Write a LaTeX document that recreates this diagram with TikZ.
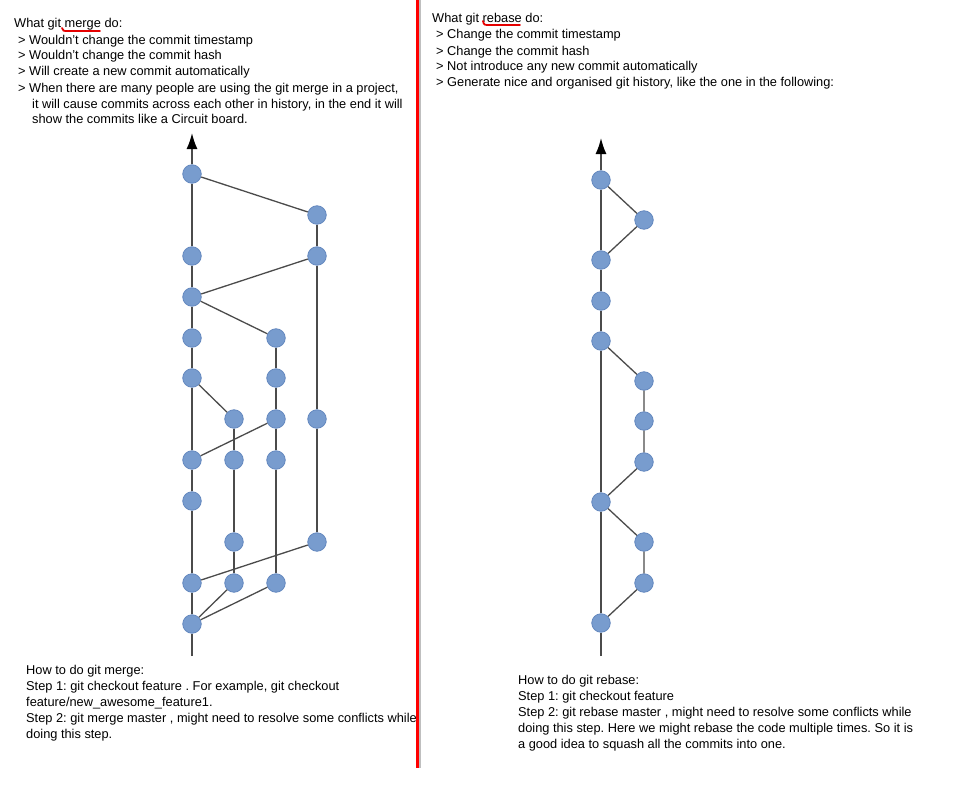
\documentclass[tikz,border=0pt]{standalone}
\usepackage{fontspec}
\setmainfont{Liberation Sans}
\usetikzlibrary{arrows.meta,backgrounds}

\definecolor{commitblue}{RGB}{120,156,206}
\definecolor{commitedge}{RGB}{98,135,190}
\definecolor{linegray}{RGB}{75,75,75}

\frenchspacing

\begin{document}
\begin{tikzpicture}[x=1pt,y=-1pt,
  commit/.style={circle,fill=commitblue,draw=commitedge,line width=0.8pt,minimum size=18.5pt,inner sep=0pt},
  link/.style={draw=linegray,line width=1.3pt},
  trunk/.style={draw=linegray,line width=1.6pt,-{Latex[length=16pt,width=11pt,black]}},
  txt/.style={anchor=base west,inner sep=0pt,align=left,font=\fontsize{12.8}{16}\selectfont},
  squiggle/.style={draw=red!90!black,line width=1.8pt,line cap=round}]
\useasboundingbox (0,0) rectangle (962,808);

% texts (anchored at the baseline of their last line)
\node [txt] (MergeTitle) at (14,28) {What git merge do:};
\node [txt] (MergeList) at (18,124) {> Wouldn't change the commit timestamp\\> Wouldn't change the commit hash\\> Will create a new commit automatically\\> When there are many people are using the git merge in a project,\\\hspace{14pt}it will cause commits across each other in history, in the end it will\\\hspace{14pt}show the commits like a Circuit board.};
\node [txt] (RebaseTitle) at (432,23) {What git rebase do:};
\node [txt] (RebaseList) at (436,87) {> Change the commit timestamp\\> Change the commit hash\\> Not introduce any new commit automatically\\> Generate nice and organised git history, like the one in the following:};
\node [txt] (MergeHow) at (26,738) {How to do git merge:\\Step 1: git checkout feature . For example, git checkout\\feature/new\_awesome\_feature1.\\Step 2: git merge master , might need to resolve some conflicts while\\doing this step.};
\node [txt] (RebaseHow) at (518,748) {How to do git rebase:\\Step 1: git checkout feature\\Step 2: git rebase master , might need to resolve some conflicts while\\doing this step. Here we might rebase the code multiple times. So it is\\a good idea to squash all the commits into one.};

% red marks
\draw [squiggle] (62,28) .. controls (63,31) .. (68,31) -- (100,31);
\draw [squiggle] (483,21) .. controls (484,25) .. (490,25) -- (520,25);
\draw [gray!50,line width=2pt] (420,0) -- (420,768);
\draw [red,line width=3pt] (417,0) -- (417,768);

% merge graph: master
\node [commit] (lm1) at (192,174) {};
\node [commit] (lm2) at (192,256) {};
\node [commit] (lm3) at (192,297) {};
\node [commit] (lm4) at (192,338) {};
\node [commit] (lm5) at (192,378) {};
\node [commit] (lm6) at (192,460) {};
\node [commit] (lm7) at (192,501) {};
\node [commit] (lm8) at (192,583) {};
\node [commit] (lm9) at (192,624) {};
\coordinate (ltop) at (192,133);
\coordinate (lbot) at (192,656);
% merge graph: branches
\node [commit] (la1) at (234,419) {};
\node [commit] (la2) at (234,460) {};
\node [commit] (la3) at (234,542) {};
\node [commit] (la4) at (234,583) {};
\node [commit] (lb1) at (276,338) {};
\node [commit] (lb2) at (276,378) {};
\node [commit] (lb3) at (276,419) {};
\node [commit] (lb4) at (276,460) {};
\node [commit] (lb5) at (276,583) {};
\node [commit] (lc1) at (317,215) {};
\node [commit] (lc2) at (317,256) {};
\node [commit] (lc3) at (317,419) {};
\node [commit] (lc4) at (317,542) {};

\draw [trunk] (lbot) -- (lm9) -- (lm8) -- (lm7) -- (lm6) -- (lm5) -- (lm4) -- (lm3) -- (lm2) -- (lm1) -- (ltop);
\draw [link] (la1) -- (la2) -- (la3) -- (la4);
\draw [link] (lb1) -- (lb2) -- (lb3) -- (lb4) -- (lb5);
\draw [link] (lc1) -- (lc2) -- (lc3) -- (lc4);
\draw [link] (lm1) -- (lc1);
\draw [link] (lm3) -- (lc2);
\draw [link] (lm3) -- (lb1);
\draw [link] (lm5) -- (la1);
\draw [link] (lm6) -- (lb3);
\draw [link] (lm8) -- (lc4);
\draw [link] (lm9) -- (la4);
\draw [link] (lm9) -- (lb5);

% rebase graph
\node [commit] (rm1) at (601,180) {};
\node [commit] (rm2) at (601,260) {};
\node [commit] (rm3) at (601,301) {};
\node [commit] (rm4) at (601,341) {};
\node [commit] (rm5) at (601,502) {};
\node [commit] (rm6) at (601,623) {};
\coordinate (rtop) at (601,138);
\coordinate (rbot) at (601,656);
\node [commit] (rb1) at (644,220) {};
\node [commit] (rb2) at (644,381) {};
\node [commit] (rb3) at (644,421) {};
\node [commit] (rb4) at (644,462) {};
\node [commit] (rb5) at (644,542) {};
\node [commit] (rb6) at (644,583) {};

\draw [trunk] (rbot) -- (rm6) -- (rm5) -- (rm4) -- (rm3) -- (rm2) -- (rm1) -- (rtop);
\draw [link] (rm1) -- (rb1) -- (rm2);
\draw [link] (rm4) -- (rb2) -- (rb3) -- (rb4) -- (rm5);
\draw [link] (rm5) -- (rb5) -- (rb6) -- (rm6);
\end{tikzpicture}
\end{document}
